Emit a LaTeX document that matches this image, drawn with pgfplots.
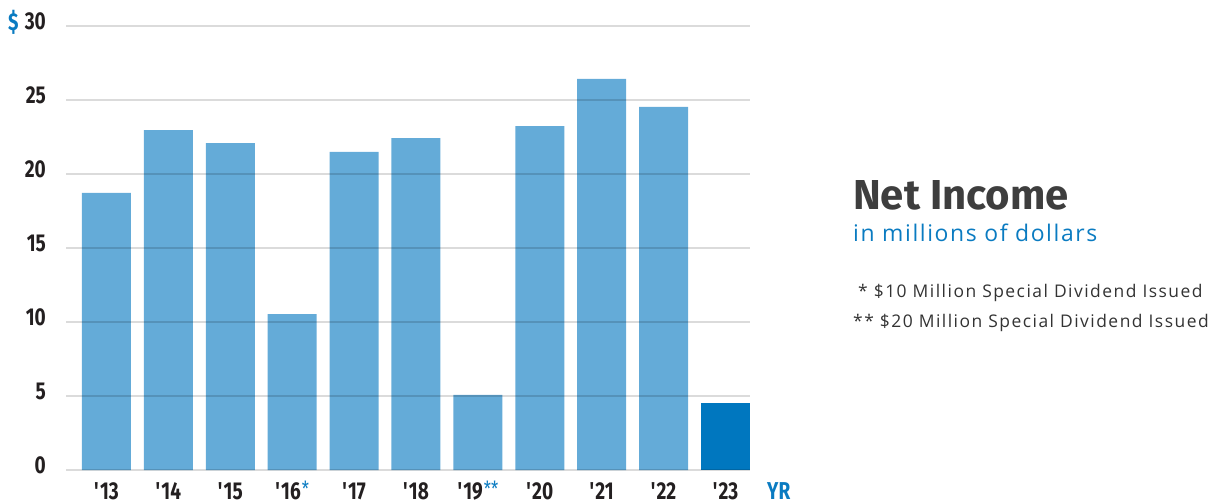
\documentclass[border=0pt]{standalone}
\usepackage{pgfplots}
\pgfplotsset{compat=1.18}
\usepackage{fontspec}
\setmainfont{Fira Sans}
\newfontfamily\condfont{Fira Sans}[FakeStretch=0.78]
\newfontfamily\notefont{Open Sans}[LetterSpace=7]
\newfontfamily\footfont{Open Sans}[LetterSpace=8.5]
\definecolor{barblue}{HTML}{64ABD8}
\definecolor{bardark}{HTML}{0077BF}
\definecolor{accent}{HTML}{0A7BC1}
\definecolor{ink}{HTML}{231F20}
\definecolor{titleink}{HTML}{3E3E3E}
\definecolor{noteink}{HTML}{333333}
\newcommand{\yr}[1]{\textquotesingle#1}
\newcommand{\footmark}[1]{\hspace{1bp}\raisebox{3bp}{\mdseries\fontsize{21}{21}\selectfont\color{accent}#1}}
\begin{document}
\begin{tikzpicture}
\useasboundingbox (0,0) rectangle (1218bp,504bp);
\begin{axis}[
  at={(66bp,34bp)}, anchor=south west,
  scale only axis, width=684bp, height=444bp,
  xmin=-0.654, xmax=10.396, ymin=0, ymax=30,
  clip=false,
  axis line style={draw=none}, axis on top,
  ymajorgrids, ytick={0,5,...,30},
  grid style={black, opacity=0.14, line width=1.3bp},
  xtick={0,...,10},
  xticklabels={\yr{13},\yr{14},\yr{15},\yr{16}\footmark{*},\yr{17},\yr{18},\yr{19}\footmark{**},\yr{20},\yr{21},\yr{22},\yr{23}},
  major tick length=0pt, tick style={draw=none},
  tick label style={font=\condfont\bfseries\fontsize{24.5}{24.5}\selectfont, text=ink},
  /pgf/number format/assume math mode=true,
  yticklabel style={anchor=east, inner sep=0pt, xshift=-20bp, yshift=4.5bp},
  xticklabel style={anchor=north, inner sep=0pt, yshift=-12bp, text height=17bp, text depth=0pt},
  bar width=49bp,
]
\addplot[ybar, fill=barblue, draw=none] coordinates {
  (0,18.72) (1,22.97) (2,22.09) (3,10.54) (4,21.49)
  (5,22.43) (6,5.07) (7,23.24) (8,26.42) (9,24.53)
};
\addplot[ybar, fill=bardark, draw=none] coordinates {(10,4.53)};
\node[anchor=north, inner sep=0pt, yshift=-12bp, text height=17bp, text depth=0pt,
      font=\condfont\bfseries\fontsize{24.5}{24.5}\selectfont, text=accent]
  at (axis cs:10.86,0) {YR};
\end{axis}
% currency marker beside the top tick
\node[anchor=base west, inner sep=0pt, font=\condfont\bfseries\fontsize{24.5}{24.5}\selectfont, text=accent]
  at (8bp,473bp) {\$};
% title block
\node[anchor=base west, inner sep=0pt, font=\bfseries\fontsize{42}{42}\selectfont, text=titleink]
  at (853bp,294bp) {Net Income};
\node[anchor=base west, inner sep=0pt, font=\notefont\fontsize{23}{23}\selectfont, text=accent]
  at (853bp,262bp) {in millions of dollars};
\node[anchor=base west, inner sep=0pt, font=\footfont\fontsize{17.5}{17.5}\selectfont, text=noteink]
  at (858bp,206bp) {* \$10 Million Special Dividend Issued};
\node[anchor=base west, inner sep=0pt, font=\footfont\fontsize{17.5}{17.5}\selectfont, text=noteink]
  at (853bp,176bp) {** \$20 Million Special Dividend Issued};
\end{tikzpicture}
\end{document}
